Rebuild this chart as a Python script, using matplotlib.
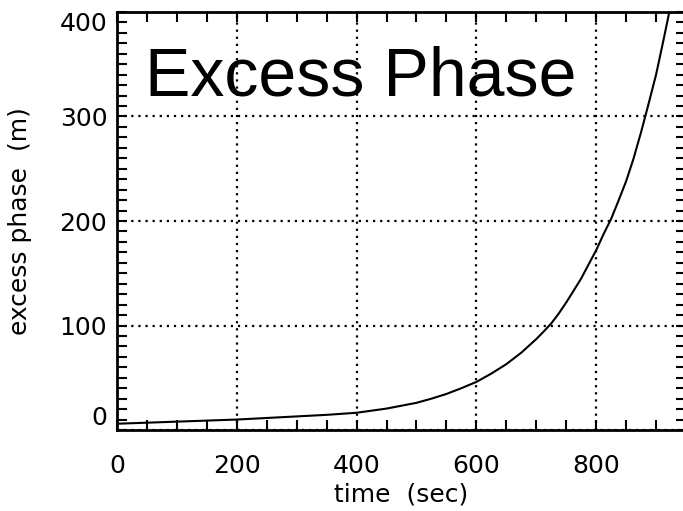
import matplotlib
matplotlib.use("Agg")
import matplotlib.pyplot as plt
from matplotlib.ticker import MultipleLocator

# data
time_sec = [0, 50, 100, 150, 200, 250, 300, 350, 400, 450, 500, 525, 550, 575,
            600, 625, 650, 675, 700, 712, 725, 737, 750, 762, 775, 787, 800,
            812, 825, 837, 850, 862, 875, 887, 900, 912, 925, 935]
excess_phase_m = [6, 7, 8, 9, 10, 11.5, 13, 14.5, 16.5, 20.5, 26, 30, 34.5, 40,
                  46, 54, 63, 74, 87, 94, 102, 111, 122, 133, 145, 158, 172,
                  187, 202, 219, 238, 259, 285, 311, 340, 372, 408, 440]
x_ticks = [0, 200, 400, 600, 800]
y_ticks = [0, 100, 200, 300, 400]
title_text = "Excess Phase"
x_label = "time  (sec)"
y_label = "excess phase  (m)"

plt.rcParams['font.family'] = ['DejaVu Sans']
fig = plt.figure(figsize=(6.83, 5.11), dpi=100)
W, H = 683, 511
left, right, top, bottom = 117, 686, 12, 430
ax = fig.add_axes([left / W, (H - bottom) / H, (right - left) / W, (bottom - top) / H])

ax.plot(time_sec, excess_phase_m, color='black', lw=1.5)
ax.set_xlim(0, 950)
ax.set_ylim(0, 400)

ax.set_xticks(x_ticks)
ax.set_yticks(y_ticks)
ax.xaxis.set_minor_locator(MultipleLocator(50))
ax.yaxis.set_minor_locator(MultipleLocator(10))
ax.tick_params(which='both', direction='in', top=True, right=True,
               length=7, width=1.5, color='black')
ax.tick_params(axis='x', which='major', labelsize=18, pad=17)
ax.tick_params(axis='y', which='major', labelsize=18, pad=7)

fig.canvas.draw()
ylabs = ax.get_yticklabels()
ylabs[0].set_va('bottom')
ylabs[-1].set_va('top')

ax.grid(True, which='major', color='black', linestyle=(0, (1, 2.2)), lw=1.6)
for s in ax.spines.values():
    s.set_linewidth(2)
    s.set_color('black')

ax.set_xlabel(x_label, fontsize=18)
ax.set_ylabel(y_label, fontsize=18)
ax.xaxis.set_label_coords(0.5, -0.155)
ax.xaxis.label.set_va('center')
ax.yaxis.set_label_coords(-0.170, 0.5)
ax.yaxis.label.set_va('center')

ax.text(0.049, 0.801, title_text, transform=ax.transAxes, fontsize=49,
        family='Liberation Sans', va='baseline', ha='left', color='black')

fig.savefig("out.png", dpi=100)
